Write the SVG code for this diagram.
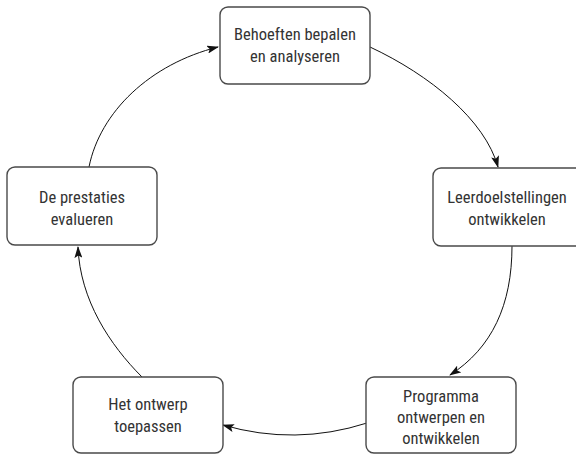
<svg xmlns="http://www.w3.org/2000/svg" width="576" height="455" viewBox="0 0 576 455">
<style>
.box{fill:#fff;stroke:#4a4a4a;stroke-width:1.4}
.t{font-family:"Liberation Sans Narrow","Roboto Condensed","DejaVu Sans Condensed","Liberation Sans",sans-serif;font-size:16.5px;fill:#333;text-anchor:middle}
.c{fill:none;stroke:#111;stroke-width:1}
</style>
<defs>
<marker id="ah" viewBox="0 0 12 8" refX="11" refY="4" markerWidth="12" markerHeight="8" markerUnits="userSpaceOnUse" orient="auto">
<path d="M0,0 L12,4 L0,8 L2.5,4 Z" fill="#111"/>
</marker>
</defs>
<g id="connectors">
<path class="c" d="M370,47 C430,75 485,120 498,167" marker-end="url(#ah)"/>
<path class="c" d="M512,246 C512,305 492,348 450,375" marker-end="url(#ah)"/>
<path class="c" d="M367,423 Q295,446 223,425" marker-end="url(#ah)"/>
<path class="c" d="M142,377 C110,345 80,300 78,247" marker-end="url(#ah)"/>
<path class="c" d="M89,167 C100,112 150,64 218,47" marker-end="url(#ah)"/>
</g>
<g id="n1">
<rect class="box" x="220" y="7" width="150" height="77" rx="8"/>
<text class="t" x="295" y="40">Behoeften bepalen</text>
<text class="t" x="295" y="62">en analyseren</text>
</g>
<g id="n2">
<rect class="box" x="433" y="168" width="150" height="78" rx="8"/>
<text class="t" x="507" y="203">Leerdoelstellingen</text>
<text class="t" x="507" y="225">ontwikkelen</text>
</g>
<g id="n3">
<rect class="box" x="366" y="377" width="150" height="76" rx="8"/>
<text class="t" x="441" y="402">Programma</text>
<text class="t" x="441" y="423">ontwerpen en</text>
<text class="t" x="441" y="444">ontwikkelen</text>
</g>
<g id="n4">
<rect class="box" x="73" y="377" width="150" height="76" rx="8"/>
<text class="t" x="148" y="410">Het ontwerp</text>
<text class="t" x="148" y="432">toepassen</text>
</g>
<g id="n5">
<rect class="box" x="7" y="167" width="150" height="78" rx="8"/>
<text class="t" x="82" y="203">De prestaties</text>
<text class="t" x="82" y="225">evalueren</text>
</g>
</svg>
